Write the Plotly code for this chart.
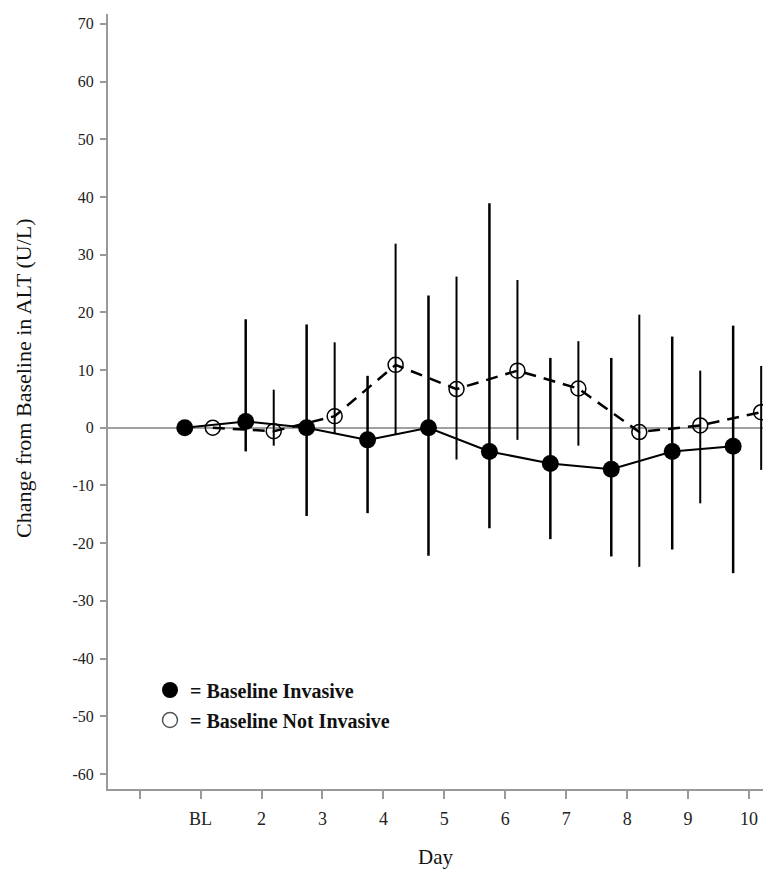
import plotly.graph_objects as go

# ---- data ----
day_labels = ["BL", "2", "3", "4", "5", "6", "7", "8", "9", "10"]
day_index = [1, 2, 3, 4, 5, 6, 7, 8, 9, 10]

inv_mean = [0, 1.1, 0, -2.1, 0, -4.1, -6.2, -7.2, -4.1, -3.2]
inv_upper = [0, 18.8, 17.9, 9.0, 22.9, 38.9, 12.1, 12.1, 15.8, 17.7]
inv_lower = [0, -4.1, -15.3, -14.8, -22.2, -17.4, -19.3, -22.3, -21.1, -25.2]

non_mean = [0, -0.6, 2.0, 10.9, 6.7, 9.9, 6.8, -0.75, 0.4, 2.7]
non_upper = [0, 6.6, 14.8, 31.9, 26.2, 25.6, 15.0, 19.6, 9.9, 10.7]
non_lower = [0, -3.1, -1.0, -1.2, -5.5, -2.1, -3.1, -24.1, -13.1, -7.3]

y_ticks = [70, 60, 50, 40, 30, 20, 10, 0, -10, -20, -30, -40, -50, -60]

# ---- derived ----
off_inv, off_non = -0.26, 0.2
x_inv = [d + off_inv for d in day_index]
x_non = [d + off_non for d in day_index]
inv_plus = [u - m for u, m in zip(inv_upper, inv_mean)]
inv_minus = [m - l for m, l in zip(inv_mean, inv_lower)]
non_plus = [u - m for u, m in zip(non_upper, non_mean)]
non_minus = [m - l for m, l in zip(non_mean, non_lower)]

SERIF = "Liberation Serif, Times New Roman, serif"

fig = go.Figure()

fig.add_trace(go.Scatter(
    x=x_non, y=non_mean, mode="lines+markers",
    line=dict(color="black", width=2.5, dash="12px,8px"),
    marker=dict(symbol="circle-open", size=15, color="black", line=dict(width=1.5, color="black")),
    error_y=dict(type="data", symmetric=False, array=non_plus, arrayminus=non_minus,
                 width=0, thickness=2, color="black"),
    showlegend=False, hoverinfo="skip"))

fig.add_trace(go.Scatter(
    x=x_inv, y=inv_mean, mode="lines+markers",
    line=dict(color="black", width=2),
    marker=dict(symbol="circle", size=17, color="black"),
    error_y=dict(type="data", symmetric=False, array=inv_plus, arrayminus=inv_minus,
                 width=0, thickness=2.5, color="black"),
    showlegend=False, hoverinfo="skip"))

# legend-only traces
fig.add_trace(go.Scatter(x=[None], y=[None], mode="markers", name="<b>= Baseline Invasive</b>",
                         marker=dict(symbol="circle", size=16, color="black"), legend="legend"))
fig.add_trace(go.Scatter(x=[None], y=[None], mode="markers", name="<b>= Baseline Not Invasive</b>",
                         marker=dict(symbol="circle-open", size=15, color="#555",
                                     line=dict(width=1.5, color="#666")), legend="legend2"))

top, bottom, left = 14, 82, 108
plot_h = 871 - top - bottom
plot_w = 763 - left

def py(pix):
    return (871 - bottom - pix) / plot_h

def px(pix):
    return (pix - left) / plot_w

legend_common = dict(xanchor="left", yanchor="middle", bgcolor="rgba(0,0,0,0)",
                     font=dict(family=SERIF, size=20, color="#111"), itemwidth=30)

fig.update_layout(
    width=763, height=871,
    margin=dict(l=left, r=0, t=top, b=bottom),
    paper_bgcolor="white", plot_bgcolor="white",
    showlegend=True,
    legend=dict(x=px(150), y=py(690), **legend_common),
    legend2=dict(x=px(150), y=py(720), **legend_common),
    xaxis=dict(
        range=[-0.52, 10.23],
        tickmode="array", tickvals=[0] + day_index, ticktext=[""] + day_labels,
        ticks="outside", ticklen=8, tickwidth=1.5, tickcolor="#999",
        showline=True, linecolor="#999", linewidth=2,
        showgrid=False, zeroline=False,
        tickfont=dict(family=SERIF, size=18, color="#222"),
        ticklabelstandoff=4,
        title=dict(text="Day", font=dict(family=SERIF, size=21, color="#111"), standoff=22),
    ),
    yaxis=dict(
        range=[-62.6, 71.7],
        tickmode="array", tickvals=y_ticks, ticktext=[str(v) for v in y_ticks],
        ticks="outside", ticklen=6, tickwidth=1.5, tickcolor="#999",
        showline=True, linecolor="#999", linewidth=2,
        showgrid=False,
        zeroline=True, zerolinecolor="#a0a0a0", zerolinewidth=2,
        tickfont=dict(family=SERIF, size=16, color="#222"),
        ticklabelstandoff=3,
    ),
    annotations=[dict(
        text="Change from Baseline in ALT (U/L)", textangle=-90,
        xref="paper", yref="paper", x=px(23), y=py(378),
        xanchor="center", yanchor="middle", showarrow=False,
        font=dict(family=SERIF, size=22, color="#111"))],
)

fig.write_html("out.html", config={"displayModeBar": False},
               post_script="document.body.style.margin='0';")
